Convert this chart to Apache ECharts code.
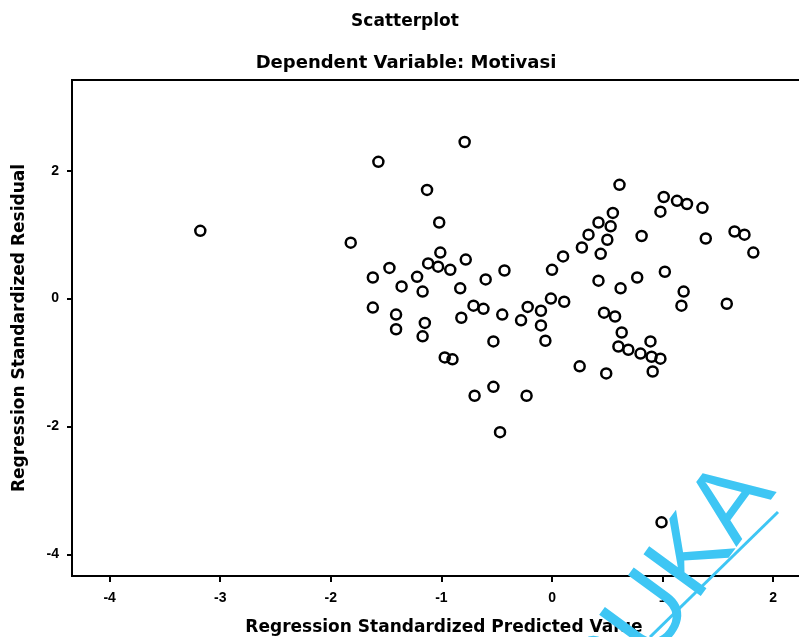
<!DOCTYPE html>
<html>
<head>
<meta charset="utf-8">
<script src="https://cdn.jsdelivr.net/npm/echarts@6/dist/echarts.min.js"></script>
<style>html,body{margin:0;padding:0;background:#fff;}#c{width:799px;height:637px;}</style>
</head>
<body>
<div id="c"></div>
<script>
const title = 'Scatterplot';
const subtitle = 'Dependent Variable: Motivasi';
const xName = 'Regression Standardized Predicted Value';
const yName = 'Regression Standardized Residual';
const xTicks = [-4, -3, -2, -1, 0, 1, 2];
const yTicks = [-4, -2, 0, 2];
const predicted = [
  -3.18, -1.82, -1.57, -0.79, -1.13, -1.02, -1.01, -0.78, -1.47, -1.12,
  -1.03, -0.92, -1.62, -1.22, -1.36, -1.17, -0.83, -0.60, -0.43, 0.00,
  0.10, 0.27, 0.33, 0.42, 0.53, 0.55, 0.50, 0.44, 0.61, 0.81,
  0.98, 1.01, 1.13, 1.22, 1.36, 1.39, 1.65, 1.74, 1.82, 0.42,
  0.62, 0.77, 1.02, 1.19, 1.17, 1.58, -0.01, 0.11, 0.47, 0.57,
  0.63, 0.89, 0.60, 0.69, 0.80, 0.90, 0.98, 0.91, 0.25, 0.49,
  -1.62, -1.41, -1.41, -1.15, -1.17, -0.97, -0.90, -0.71, -0.62, -0.82,
  -0.45, -0.22, -0.10, -0.28, -0.10, -0.06, -0.53, -0.53, -0.70, -0.23,
  -0.47, 0.99
];
const residual = [
  1.06, 0.875, 2.14, 2.45, 1.70, 1.19, 0.72, 0.61, 0.48, 0.55,
  0.50, 0.45, 0.33, 0.34, 0.19, 0.11, 0.16, 0.30, 0.44, 0.45,
  0.66, 0.80, 1.00, 1.19, 1.13, 1.34, 0.92, 0.70, 1.78, 0.98,
  1.36, 1.59, 1.53, 1.48, 1.42, 0.94, 1.05, 1.00, 0.72, 0.28,
  0.16, 0.33, 0.42, 0.11, -0.11, -0.08, 0.00, -0.05, -0.22, -0.28,
  -0.53, -0.67, -0.75, -0.80, -0.86, -0.91, -0.94, -1.14, -1.06, -1.17,
  -0.14, -0.25, -0.48, -0.38, -0.59, -0.92, -0.95, -0.11, -0.16, -0.30,
  -0.25, -0.13, -0.19, -0.34, -0.42, -0.66, -0.67, -1.38, -1.52, -1.52,
  -2.09, -3.50
];
const points = predicted.map((x, i) => [x, residual[i]]);

const chart = echarts.init(document.getElementById('c'));
const labelFont = {color: '#000', fontFamily: 'Liberation Sans', fontWeight: 'bold', fontSize: 14};
const headFont = {fontFamily: 'DejaVu Sans', fontWeight: 'bold', color: '#000'};
chart.setOption({
  animation: false,
  backgroundColor: '#fff',
  title: [
    {text: title, left: 400, top: 8, textAlign: 'center',
     textStyle: {...headFont, fontSize: 17}},
    {text: subtitle, left: 401, top: 49, textAlign: 'center',
     textStyle: {...headFont, fontSize: 18}}
  ],
  grid: {left: 72, top: 80, right: -3, bottom: 61, containLabel: false, outerBoundsMode: 'none',
         show: true, borderColor: '#000', borderWidth: 2, backgroundColor: '#fff'},
  xAxis: {
    type: 'value', min: -4.34, max: 2.26,
    name: xName, nameLocation: 'middle', nameGap: 43,
    nameTextStyle: {...headFont, fontSize: 17, padding: [0, 0, 0, 14]},
    axisLine: {show: true, onZero: false, lineStyle: {color: '#000', width: 2}},
    axisTick: {show: true, length: 6, lineStyle: {color: '#000', width: 2}, customValues: xTicks},
    axisLabel: {...labelFont, margin: 15, customValues: xTicks, formatter: v => String(v)},
    splitLine: {show: false}
  },
  yAxis: {
    type: 'value', min: -4.34, max: 3.42,
    name: yName, nameLocation: 'middle', nameGap: 44, nameRotate: 90,
    nameTextStyle: {...headFont, fontSize: 17},
    axisLine: {show: true, onZero: false, lineStyle: {color: '#000', width: 2}},
    axisTick: {show: true, length: 5, lineStyle: {color: '#000', width: 2}, customValues: yTicks},
    axisLabel: {...labelFont, margin: 13, customValues: yTicks, formatter: v => String(v)},
    splitLine: {show: false}
  },
  series: [{
    type: 'scatter',
    data: points,
    symbol: 'circle',
    symbolSize: 10,
    itemStyle: {color: 'rgba(255,255,255,0)', borderColor: '#000', borderWidth: 2.5, opacity: 1}
  }],
  graphic: [
    {type: 'text', x: 630, y: 732, rotation: 0.94, z: 100,
     style: {text: 'BUKA', fontSize: 103, fontFamily: 'Liberation Sans', fill: '#3ec6f4', textAlign: 'left', textVerticalAlign: 'bottom'}},
    {type: 'line', z: 100, shape: {x1: 778, y1: 512, x2: 650, y2: 637}, style: {stroke: '#3ec6f4', lineWidth: 3}}
  ]
});
</script>
</body>
</html>
